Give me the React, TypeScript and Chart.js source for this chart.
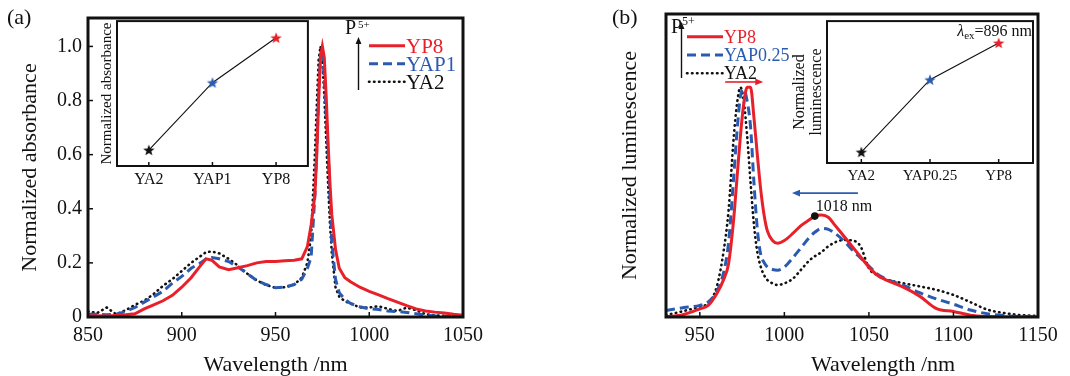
import React, { useEffect, useRef } from 'react';
import { Chart, registerables } from 'chart.js';
Chart.register(...registerables);

const SERIF = '"Liberation Serif", "Times New Roman", serif';
const RED = '#e8202a';
const BLUE = '#2b5bb0';
const BLACK = '#111111';

// ---------- Panel (a): absorbance ----------
const waveA = [850, 855, 860, 865, 870, 875, 880, 885, 890, 895, 900, 905, 910, 913, 916, 920, 925, 930, 935, 940, 945, 950, 955, 960, 964, 967, 969, 971, 972, 973, 974, 975, 976, 977, 978, 979, 980, 982, 984, 987, 990, 995, 1000, 1005, 1010, 1015, 1020, 1025, 1030, 1035, 1040, 1045, 1050];
const absYP8 = [0.005, 0.005, 0.004, 0.006, 0.008, 0.012, 0.03, 0.045, 0.06, 0.08, 0.11, 0.145, 0.19, 0.215, 0.21, 0.185, 0.175, 0.182, 0.19, 0.2, 0.205, 0.205, 0.208, 0.21, 0.215, 0.26, 0.34, 0.45, 0.6, 0.8, 0.96, 1.0, 0.96, 0.82, 0.65, 0.5, 0.38, 0.25, 0.18, 0.145, 0.13, 0.11, 0.095, 0.082, 0.068, 0.055, 0.042, 0.03, 0.022, 0.018, 0.015, 0.01, 0.006];
const absYAP1 = [0.01, 0.01, 0.008, 0.01, 0.02, 0.035, 0.055, 0.075, 0.095, 0.125, 0.15, 0.18, 0.2, 0.215, 0.22, 0.215, 0.205, 0.185, 0.16, 0.135, 0.12, 0.108, 0.11, 0.12, 0.14, 0.18, 0.22, 0.45, 0.62, 0.82, 0.97, 0.99, 0.88, 0.75, 0.62, 0.45, 0.28, 0.14, 0.09, 0.065, 0.05, 0.038, 0.03, 0.028, 0.022, 0.02, 0.017, 0.012, 0.007, 0.004, 0.003, 0.002, 0.001];
const absYA2 = [0.02, 0.015, 0.035, 0.01, 0.025, 0.045, 0.06, 0.085, 0.115, 0.14, 0.17, 0.2, 0.225, 0.24, 0.242, 0.235, 0.215, 0.19, 0.16, 0.135, 0.118, 0.108, 0.11, 0.12, 0.145, 0.2, 0.3, 0.6, 0.78, 0.95, 1.0, 0.95, 0.82, 0.66, 0.5, 0.35, 0.24, 0.11, 0.075, 0.058, 0.05, 0.035, 0.035, 0.04, 0.03, 0.022, 0.035, 0.025, 0.01, 0.006, 0.004, 0.002, 0.001];
const ticksAX = [850, 900, 950, 1000, 1050];
const ticksAY = [0, 0.2, 0.4, 0.6, 0.8, 1.0];
const insetACats = ['YA2', 'YAP1', 'YP8'];
const insetAValues = [0.11, 0.575, 0.885];

// ---------- Panel (b): luminescence ----------
const waveB = [930, 940, 950, 955, 960, 964, 967, 970, 972, 974, 976, 978, 980, 982, 984, 986, 988, 990, 993, 996, 1000, 1005, 1010, 1015, 1018, 1022, 1026, 1030, 1035, 1040, 1045, 1050, 1055, 1060, 1070, 1080, 1090, 1100, 1110, 1120, 1130, 1140, 1150];
const lumYP8 = [0.0, 0.01, 0.035, 0.05, 0.1, 0.16, 0.23, 0.42, 0.6, 0.78, 0.92, 0.99, 0.99, 0.86, 0.7, 0.55, 0.44, 0.37, 0.33, 0.318, 0.33, 0.36, 0.395, 0.42, 0.435, 0.44, 0.43, 0.395, 0.35, 0.305, 0.26, 0.215, 0.18, 0.16, 0.13, 0.09, 0.036, 0.024, 0.008, 0.002, 0, 0, 0];
const lumYAP025 = [0.028, 0.04, 0.05, 0.065, 0.11, 0.19, 0.32, 0.6, 0.8, 0.95, 0.98, 0.93, 0.82, 0.58, 0.38, 0.27, 0.235, 0.215, 0.205, 0.202, 0.215, 0.255, 0.3, 0.345, 0.365, 0.382, 0.378, 0.36, 0.33, 0.29, 0.255, 0.22, 0.185, 0.165, 0.138, 0.105, 0.078, 0.055, 0.03, 0.014, 0.006, 0.002, 0];
const lumYA2 = [0.008, 0.025, 0.045, 0.06, 0.13, 0.28, 0.46, 0.77, 0.92, 0.99, 0.93, 0.78, 0.58, 0.4, 0.28, 0.217, 0.18, 0.159, 0.145, 0.138, 0.145, 0.165, 0.205, 0.245, 0.262, 0.28, 0.305, 0.322, 0.332, 0.33, 0.305, 0.21, 0.18, 0.162, 0.146, 0.132, 0.117, 0.095, 0.064, 0.032, 0.017, 0.008, 0.004];
const ticksBX = [950, 1000, 1050, 1100, 1150];
const peakNm = [1018];
const peakVal = [0.435];
const insetBCats = ['YA2', 'YAP0.25', 'YP8'];
const insetBValues = [0.077, 0.587, 0.846];

function makeStar(color: string, r = 6): HTMLCanvasElement {
  const s = Math.ceil(r * 2 + 2);
  const c = document.createElement('canvas');
  c.width = s; c.height = s;
  const g = c.getContext('2d')!;
  g.fillStyle = color;
  g.beginPath();
  for (let i = 0; i < 10; i++) {
    const rad = i % 2 === 0 ? r : r * 0.42;
    const ang = -Math.PI / 2 + (i * Math.PI) / 5;
    const px = s / 2 + rad * Math.cos(ang);
    const py = s / 2 + 0.5 + rad * Math.sin(ang);
    if (i === 0) g.moveTo(px, py); else g.lineTo(px, py);
  }
  g.closePath();
  g.fill();
  return c;
}

function arrow(ctx: CanvasRenderingContext2D, x1: number, y1: number, x2: number, y2: number, color: string, lw: number, head: number) {
  const a = Math.atan2(y2 - y1, x2 - x1);
  ctx.strokeStyle = color; ctx.fillStyle = color; ctx.lineWidth = lw;
  ctx.setLineDash([]);
  ctx.beginPath();
  ctx.moveTo(x1, y1);
  ctx.lineTo(x2 - Math.cos(a) * head * 0.8, y2 - Math.sin(a) * head * 0.8);
  ctx.stroke();
  const w = head * 0.42;
  ctx.beginPath();
  ctx.moveTo(x2, y2);
  ctx.lineTo(x2 - head * Math.cos(a) + w * Math.sin(a), y2 - head * Math.sin(a) - w * Math.cos(a));
  ctx.lineTo(x2 - head * Math.cos(a) - w * Math.sin(a), y2 - head * Math.sin(a) + w * Math.cos(a));
  ctx.closePath();
  ctx.fill();
}

function framePlugin(lw: number, tickLen: number, xTicks: boolean, yTicks: boolean, fill: boolean) {
  return {
    id: 'frame',
    beforeDraw(chart: any) {
      if (!fill) return;
      const { ctx, chartArea: a } = chart;
      ctx.save();
      ctx.fillStyle = '#fff';
      ctx.fillRect(a.left, a.top, a.right - a.left, a.bottom - a.top);
      ctx.restore();
    },
    afterDatasetsDraw(chart: any) {
      const { ctx, chartArea: a, scales } = chart;
      ctx.save();
      ctx.setLineDash([]);
      ctx.strokeStyle = BLACK;
      ctx.lineWidth = lw;
      ctx.strokeRect(a.left, a.top, a.right - a.left, a.bottom - a.top);
      ctx.lineWidth = 1.5;
      if (xTicks) scales.x.ticks.forEach((_t: any, i: number) => {
        const px = scales.x.getPixelForTick(i);
        ctx.beginPath(); ctx.moveTo(px, a.bottom); ctx.lineTo(px, a.bottom - tickLen); ctx.stroke();
      });
      if (yTicks) scales.y.ticks.forEach((_t: any, i: number) => {
        const py = scales.y.getPixelForTick(i);
        ctx.beginPath(); ctx.moveTo(a.left, py); ctx.lineTo(a.left + tickLen, py); ctx.stroke();
      });
      ctx.restore();
    },
  };
}

type LegendOpts = { pX: number; pBase: number; supX: number; supBase: number; supSize: number; arrowX: number; arrowY1: number; arrowY2: number; lx1: number; lx2: number; rowY: number; dy: number; size: number };
function legendPlugin(o: LegendOpts) {
  return {
    id: 'customLegend',
    afterDraw(chart: any) {
      const ctx: CanvasRenderingContext2D = chart.ctx;
      ctx.save();
      ctx.fillStyle = BLACK;
      ctx.textAlign = 'left';
      ctx.textBaseline = 'alphabetic';
      ctx.font = `20px ${SERIF}`;
      ctx.fillText('P', o.pX, o.pBase);
      ctx.font = `${o.supSize}px ${SERIF}`;
      ctx.fillText('5+', o.supX, o.supBase);
      arrow(ctx, o.arrowX, o.arrowY1, o.arrowX, o.arrowY2, BLACK, 1.4, 7);
      const items = chart.data.datasets.filter((d: any) => d.label);
      items.forEach((d: any, i: number) => {
        const y = o.rowY + i * o.dy;
        ctx.strokeStyle = d.borderColor;
        ctx.lineWidth = d.borderWidth;
        ctx.lineCap = d.borderCapStyle || 'butt';
        ctx.setLineDash(d.borderDash || []);
        ctx.beginPath(); ctx.moveTo(o.lx1, y); ctx.lineTo(o.lx2, y); ctx.stroke();
        ctx.setLineDash([]);
        ctx.fillStyle = d.borderColor;
        ctx.font = `${o.size}px ${SERIF}`;
        ctx.fillText(d.label, o.lx2 + 1, y + o.size * 0.33);
      });
      ctx.restore();
    },
  };
}

function panelLabel(text: string, x: number, base: number) {
  return {
    id: 'panelLabel',
    afterDraw(chart: any) {
      const ctx = chart.ctx;
      ctx.save();
      ctx.fillStyle = BLACK;
      ctx.font = `22px ${SERIF}`;
      ctx.textAlign = 'left';
      ctx.textBaseline = 'alphabetic';
      ctx.fillText(text, x, base);
      ctx.restore();
    },
  };
}

const tickFont = { family: SERIF, size: 20 };
const titleFont = { family: SERIF, size: 22, lineHeight: 1 };
const plainNum = (v: any) => String(v);

function mainConfigA(): any {
  const mk = (label: string, ys: number[], color: string, extra: any) => ({
    label, data: waveA.map((x, i) => ({ x, y: ys[i] })), borderColor: color, borderWidth: 3, pointRadius: 0, tension: 0, ...extra,
  });
  return {
    type: 'line',
    data: {
      datasets: [
        mk('YP8', absYP8, RED, {}),
        mk('YAP1', absYAP1, BLUE, { borderDash: [9, 5] }),
        mk('YA2', absYA2, BLACK, { borderDash: [0.5, 4.5], borderCapStyle: 'round', borderWidth: 2.6 }),
      ],
    },
    options: {
      responsive: false, animation: false,
      layout: { padding: { left: 0, right: 72, top: 14, bottom: 0 } },
      plugins: { legend: { display: false }, tooltip: { enabled: false } },
      scales: {
        x: {
          type: 'linear', min: 850, max: 1050,
          afterBuildTicks: (s: any) => { s.ticks = ticksAX.map((v) => ({ value: v })); },
          afterFit: (s: any) => { s.height = 59; },
          grid: { display: false, drawTicks: false }, border: { display: false },
          ticks: { font: tickFont, color: BLACK, padding: 7, maxRotation: 0, autoSkip: false, callback: plainNum },
          title: { display: true, text: 'Wavelength /nm', font: titleFont, color: BLACK, padding: { top: 0, bottom: 0 } },
        },
        y: {
          type: 'linear', min: 0, max: 1.105,
          afterBuildTicks: (s: any) => { s.ticks = ticksAY.map((v) => ({ value: v })); },
          afterFit: (s: any) => { s.width = 88; },
          grid: { display: false, drawTicks: false }, border: { display: false },
          ticks: { font: tickFont, color: BLACK, padding: 6, callback: (v: any) => (Number(v) === 0 ? '0' : Number(v).toFixed(1)) },
          title: { display: true, text: 'Normalized absorbance', font: titleFont, color: BLACK, padding: { top: 19, bottom: 0 } },
        },
      },
    },
    plugins: [
      framePlugin(3, 5, true, true, false),
      legendPlugin({ pX: 345, pBase: 34, supX: 358, supBase: 28, supSize: 11, arrowX: 358.5, arrowY1: 90, arrowY2: 37, lx1: 369, lx2: 405, rowY: 45.7, dy: 18, size: 21 }),
      panelLabel('(a)', 7, 24),
    ],
  };
}

function insetConfig(cats: string[], vals: number[], title: string | string[], opts: { yWidth: number; xHeight: number; padRight: number; titlePad: number; titleSize: number; titleLH: number; tickSize: number; extra?: any }): any {
  return {
    type: 'line',
    data: {
      labels: cats,
      datasets: [{
        data: vals, borderColor: BLACK, borderWidth: 1.1, tension: 0,
        pointStyle: [makeStar(BLACK), makeStar(BLUE), makeStar(RED)], pointRadius: 6,
      }],
    },
    options: {
      responsive: false, animation: false,
      layout: { padding: { left: 0, right: opts.padRight, top: 6, bottom: 0 } },
      plugins: { legend: { display: false }, tooltip: { enabled: false } },
      scales: {
        x: {
          type: 'category', offset: true,
          afterFit: (s: any) => { s.height = opts.xHeight; },
          grid: { display: false, drawTicks: false }, border: { display: false },
          ticks: { font: { family: SERIF, size: opts.tickSize }, color: BLACK, padding: 4, maxRotation: 0, autoSkip: false },
        },
        y: {
          type: 'linear', min: 0, max: 1,
          afterFit: (s: any) => { s.width = opts.yWidth; },
          grid: { display: false, drawTicks: false }, border: { display: false },
          ticks: { display: false },
          title: { display: true, text: title, font: { family: SERIF, size: opts.titleSize, lineHeight: opts.titleLH }, color: BLACK, padding: { top: opts.titlePad, bottom: 0 } },
        },
      },
    },
    plugins: [framePlugin(2, 4, true, false, true)].concat(opts.extra ? [opts.extra] : []),
  };
}

function mainConfigB(): any {
  const mk = (label: string, ys: number[], color: string, extra: any) => ({
    label, data: waveB.map((x, i) => ({ x, y: ys[i] })), borderColor: color, borderWidth: 3, pointRadius: 0, cubicInterpolationMode: 'monotone', ...extra,
  });
  const annot = {
    id: 'annotB',
    afterDraw(chart: any) {
      const { ctx, scales } = chart;
      const xs = scales.x, ys = scales.y;
      ctx.save();
      arrow(ctx, xs.getPixelForValue(965), ys.getPixelForValue(1.013), xs.getPixelForValue(987.5), ys.getPixelForValue(1.013), RED, 1.6, 8);
      arrow(ctx, xs.getPixelForValue(1043.5), ys.getPixelForValue(0.534), xs.getPixelForValue(1004.5), ys.getPixelForValue(0.534), BLUE, 1.6, 8);
      const px = xs.getPixelForValue(peakNm[0]);
      const py = ys.getPixelForValue(peakVal[0]);
      ctx.fillStyle = BLACK;
      ctx.font = `16px ${SERIF}`;
      ctx.textAlign = 'left';
      ctx.textBaseline = 'alphabetic';
      ctx.fillText(`${peakNm[0]} nm`, px + 1, py - 5);
      ctx.font = `22px ${SERIF}`;
      ctx.textAlign = 'center';
      ctx.textBaseline = 'middle';
      ctx.fillText('Wavelength /nm', 348, 365);
      ctx.restore();
    },
  };
  return {
    type: 'line',
    data: {
      datasets: [
        { label: '', data: peakNm.map((x, i) => ({ x, y: peakVal[i] })), showLine: false, pointRadius: 3.8, pointBackgroundColor: BLACK, pointBorderColor: BLACK, pointBorderWidth: 0 },
        mk('YP8', lumYP8, RED, {}),
        mk('YAP0.25', lumYAP025, BLUE, { borderDash: [9, 5] }),
        mk('YA2', lumYA2, BLACK, { borderDash: [0.5, 4.5], borderCapStyle: 'round', borderWidth: 2.6 }),
      ],
    },
    options: {
      responsive: false, animation: false,
      layout: { padding: { left: 0, right: 32, top: 14, bottom: 0 } },
      plugins: { legend: { display: false }, tooltip: { enabled: false } },
      scales: {
        x: {
          type: 'linear', min: 930, max: 1150,
          afterBuildTicks: (s: any) => { s.ticks = ticksBX.map((v) => ({ value: v })); },
          afterFit: (s: any) => { s.height = 59; },
          grid: { display: false, drawTicks: false }, border: { display: false },
          ticks: { font: tickFont, color: BLACK, padding: 7, maxRotation: 0, autoSkip: false, callback: plainNum },
          title: { display: false },
        },
        y: {
          type: 'linear', min: 0, max: 1.306,
          afterFit: (s: any) => { s.width = 131; },
          grid: { display: false, drawTicks: false }, border: { display: false },
          ticks: { display: false },
          title: { display: true, text: 'Normalized luminescence', font: titleFont, color: BLACK, padding: { top: 84, bottom: 0 } },
        },
      },
    },
    plugins: [
      framePlugin(3, 5, true, false, false),
      legendPlugin({ pX: 136, pBase: 33, supX: 147, supBase: 25, supSize: 12, arrowX: 146.5, arrowY1: 78, arrowY2: 22, lx1: 152, lx2: 188, rowY: 36.7, dy: 18.3, size: 18 }),
      panelLabel('(b)', 77, 24),
      annot,
    ],
  };
}

const lambdaPlugin = {
  id: 'lambdaText',
  afterDraw(chart: any) {
    const ctx: CanvasRenderingContext2D = chart.ctx;
    ctx.save();
    ctx.fillStyle = BLACK;
    ctx.textBaseline = 'alphabetic';
    ctx.textAlign = 'left';
    const end = 252, base = 22;
    ctx.font = `16px ${SERIF}`;
    const w3 = ctx.measureText('=896 nm').width;
    ctx.font = `11px ${SERIF}`;
    const w2 = ctx.measureText('ex').width;
    ctx.font = `italic 16px ${SERIF}`;
    const w1 = ctx.measureText('λ').width;
    let x = end - w3 - w2 - w1;
    ctx.fillText('λ', x, base); x += w1;
    ctx.font = `11px ${SERIF}`;
    ctx.fillText('ex', x, base + 3); x += w2;
    ctx.font = `16px ${SERIF}`;
    ctx.fillText('=896 nm', x, base);
    ctx.restore();
  },
};

export default function App() {
  const aRef = useRef<HTMLCanvasElement>(null);
  const aiRef = useRef<HTMLCanvasElement>(null);
  const bRef = useRef<HTMLCanvasElement>(null);
  const biRef = useRef<HTMLCanvasElement>(null);

  useEffect(() => {
    Chart.defaults.font.family = SERIF;
    const charts = [
      new Chart(aRef.current!, mainConfigA()),
      new Chart(aiRef.current!, insetConfig(insetACats, insetAValues, 'Normalized absorbance', { yWidth: 27, xHeight: 29, padRight: 7, titlePad: 9.5, titleSize: 15, titleLH: 1, tickSize: 16 })),
      new Chart(bRef.current!, mainConfigB()),
      new Chart(biRef.current!, insetConfig(insetBCats, insetBValues, ['Normalized', 'luminescence'], { yWidth: 47, xHeight: 32, padRight: 9, titlePad: 11.5, titleSize: 16, titleLH: 1.0625, tickSize: 15, extra: lambdaPlugin })),
    ];
    return () => charts.forEach((c) => c.destroy());
  }, []);

  const abs = (l: number, t: number, w: number, h: number): React.CSSProperties => ({ position: 'absolute', left: l, top: t, width: w, height: h });
  return (
    <div style={{ position: 'absolute', left: 0, top: 0, width: 1070, height: 376, background: '#fff', overflow: 'hidden' }}>
      <canvas ref={aRef} width={535} height={376} style={abs(0, 0, 535, 376)} />
      <canvas ref={bRef} width={535} height={376} style={abs(535, 0, 535, 376)} />
      <canvas ref={aiRef} width={225} height={181} style={abs(90, 14, 225, 181)} />
      <canvas ref={biRef} width={262} height={181} style={abs(780, 14, 262, 181)} />
    </div>
  );
}
